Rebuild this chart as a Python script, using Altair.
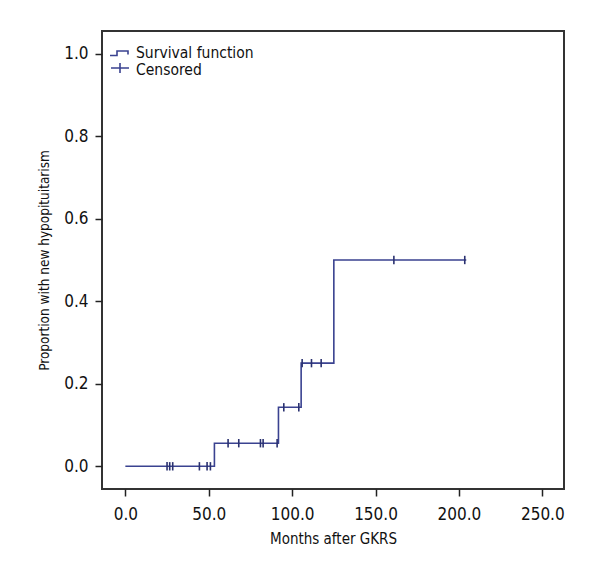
import altair as alt
import pandas as pd

# Kaplan-Meier step curve (proportion with new hypopituitarism)
step_times = [0.0, 53.4, 91.8, 105.4, 125.0, 204.4]
step_props = [0.0, 0.056, 0.143, 0.25, 0.5, 0.5]

# Censored observations
censor_times = [25.0, 26.6, 28.4, 44.4, 49.0, 51.0,
                61.6, 68.0, 81.0, 82.6, 91.0,
                95.0, 104.0,
                106.0, 111.6, 117.4,
                161.0, 203.5]
censor_props = [0.0, 0.0, 0.0, 0.0, 0.0, 0.0,
                0.056, 0.056, 0.056, 0.056, 0.056,
                0.143, 0.143,
                0.25, 0.25, 0.25,
                0.5, 0.5]

x_ticks = [0, 50, 100, 150, 200, 250]
y_ticks = [0.0, 0.2, 0.4, 0.6, 0.8, 1.0]
legend_labels = ["Survival function", "Censored"]

FONT = "DejaVu Sans Condensed, sans-serif"
LINE = "#3a4290"

steps = pd.DataFrame({"t": step_times, "p": step_props})
cens = pd.DataFrame({"t": censor_times, "p": censor_props})

xs = alt.Scale(domain=[-14, 263], nice=False, zero=False)
ys = alt.Scale(domain=[-0.055, 1.055], nice=False, zero=False)

x_axis = alt.Axis(values=x_ticks, format=".1f", title="Months after GKRS",
                  grid=False, domain=False, tickSize=7, tickWidth=1.5,
                  tickColor="#222", labelPadding=10, titlePadding=9,
                  titleFontSize=15)
y_axis = alt.Axis(values=y_ticks, format=".1f",
                  title="Proportion with new hypopituitarism",
                  grid=False, domain=False, tickSize=7, tickWidth=1.5,
                  tickColor="#222", labelPadding=7, titlePadding=12,
                  titleFontSize=13.5)

curve = alt.Chart(steps).mark_line(interpolate="step-after", color=LINE,
                                   strokeWidth=1.6).encode(
    x=alt.X("t:Q", scale=xs, axis=x_axis),
    y=alt.Y("p:Q", scale=ys, axis=y_axis),
)

marks = alt.Chart(cens).mark_point(shape="M0,-1L0,1", size=70, color="#2a3170",
                                   strokeWidth=1.6, filled=False, opacity=1).encode(
    x=alt.X("t:Q", scale=xs),
    y=alt.Y("p:Q", scale=ys),
)

leg_df = pd.DataFrame({"label": legend_labels})

leg_step = alt.Chart(leg_df.iloc[[0]]).mark_point(
    shape="M-1,0.25L-0.3,0.25L-0.3,-0.2L0.8,-0.2L0.8,0.15",
    size=400, color=LINE, strokeWidth=1.6, filled=False, opacity=1).encode(
    x=alt.value(18), y=alt.value(22))

leg_cross = alt.Chart(leg_df.iloc[[1]]).mark_point(
    shape="M-1,0L1,0M0,-0.55L0,0.55",
    size=324, color=LINE, strokeWidth=1.6, filled=False, opacity=1).encode(
    x=alt.value(18), y=alt.value(37))

leg_text1 = alt.Chart(leg_df.iloc[[0]]).mark_text(
    align="left", baseline="alphabetic", font=FONT, fontSize=15.5, color="#111").encode(
    x=alt.value(34), y=alt.value(27), text="label:N")

leg_text2 = alt.Chart(leg_df.iloc[[1]]).mark_text(
    align="left", baseline="alphabetic", font=FONT, fontSize=15.5, color="#111").encode(
    x=alt.value(34), y=alt.value(44), text="label:N")

chart = alt.layer(curve, marks, leg_step, leg_cross, leg_text1, leg_text2).properties(
    width=462, height=458,
    autosize=alt.AutoSizeParams(type="none"),
    padding={"left": 94, "top": 23, "right": 10, "bottom": 60},
    background="white",
).configure_view(
    stroke="#333", strokeWidth=2
).configure_axis(
    labelFont=FONT, titleFont=FONT, labelFontSize=17,
    labelColor="#111", titleColor="#111", titleFontWeight="normal"
)

chart.save("out.html", embed_options={"renderer": "svg", "actions": False})
